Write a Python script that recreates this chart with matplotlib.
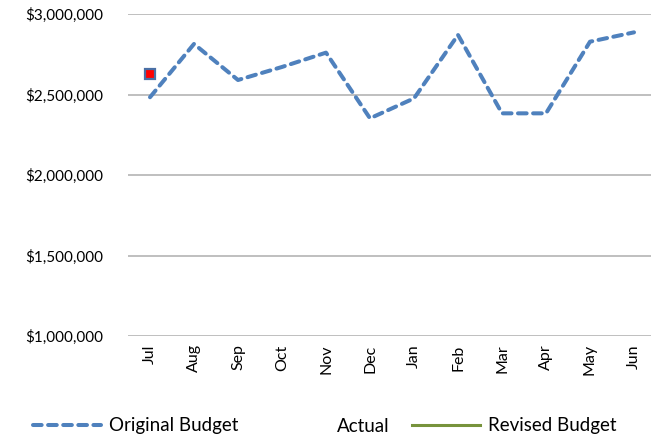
import matplotlib.pyplot as plt
from matplotlib.lines import Line2D
from matplotlib.ticker import FuncFormatter

# data
months = ["Jul", "Aug", "Sep", "Oct", "Nov", "Dec",
          "Jan", "Feb", "Mar", "Apr", "May", "Jun"]
original_budget = [2483000, 2814000, 2590000, 2671000, 2760000, 2352000,
                   2476000, 2870000, 2383000, 2383000, 2828000, 2886000]
actual = [2627000]          # only July reported so far
revised_budget = []         # no values yet, legend only

plt.rcParams['font.family'] = ['Lato', 'DejaVu Sans']
fs = 11
leg_fs = 13.5

fig = plt.figure(figsize=(6.51, 4.41), dpi=100)
ax = fig.add_axes([128 / 651, 1 - 336 / 441, 528 / 651, 322 / 441])

x = list(range(len(months)))

# Original budget: dashed blue line
orig_line, = ax.plot(x, original_budget, color="#4F81BD", lw=2.9,
                     solid_capstyle="round", dash_capstyle="round",
                     label="Original Budget")
orig_line.set_dashes((2.15, 1.6))

# Actual: single square marker
ax.plot(x[:len(actual)], actual, linestyle="none", marker="s", markersize=7.5,
        markerfacecolor="#FF0000", markeredgecolor="#4A6FA5", markeredgewidth=1.6)

ax.set_xlim(-0.5, len(months) - 0.5)
ax.set_ylim(1000000, 3000000)
ax.set_yticks([1000000, 1500000, 2000000, 2500000, 3000000])
ax.yaxis.set_major_formatter(FuncFormatter(lambda v, p: f"${v:,.0f}"))
ax.set_xticks(x)
ax.set_xticklabels(months, rotation=90)

ax.grid(axis="y", color="#ADADAD", lw=1.1)
ax.set_axisbelow(True)
for s in ax.spines.values():
    s.set_visible(False)
ax.tick_params(axis="y", length=0, pad=18, labelsize=fs)
ax.tick_params(axis="x", length=0, pad=6, labelsize=11.5)

# legend (Actual shows no symbol)
h_orig = Line2D([], [], color="#4F81BD", lw=2.9, dash_capstyle="round")
h_orig.set_dashes((2.15, 1.6))
h_act = Line2D([], [], color="none")
h_rev = Line2D([], [], color="#77933C", lw=2.2)
fig.legend([h_orig, h_act, h_rev], ["Original Budget", "Actual", "Revised Budget"],
           loc="center", bbox_to_anchor=(325 / 651, 15 / 441), ncol=3,
           frameon=False, fontsize=leg_fs, handlelength=3.63, handletextpad=0.43,
           columnspacing=1.2, borderpad=0, borderaxespad=0)

fig.savefig("out.png", dpi=100)
